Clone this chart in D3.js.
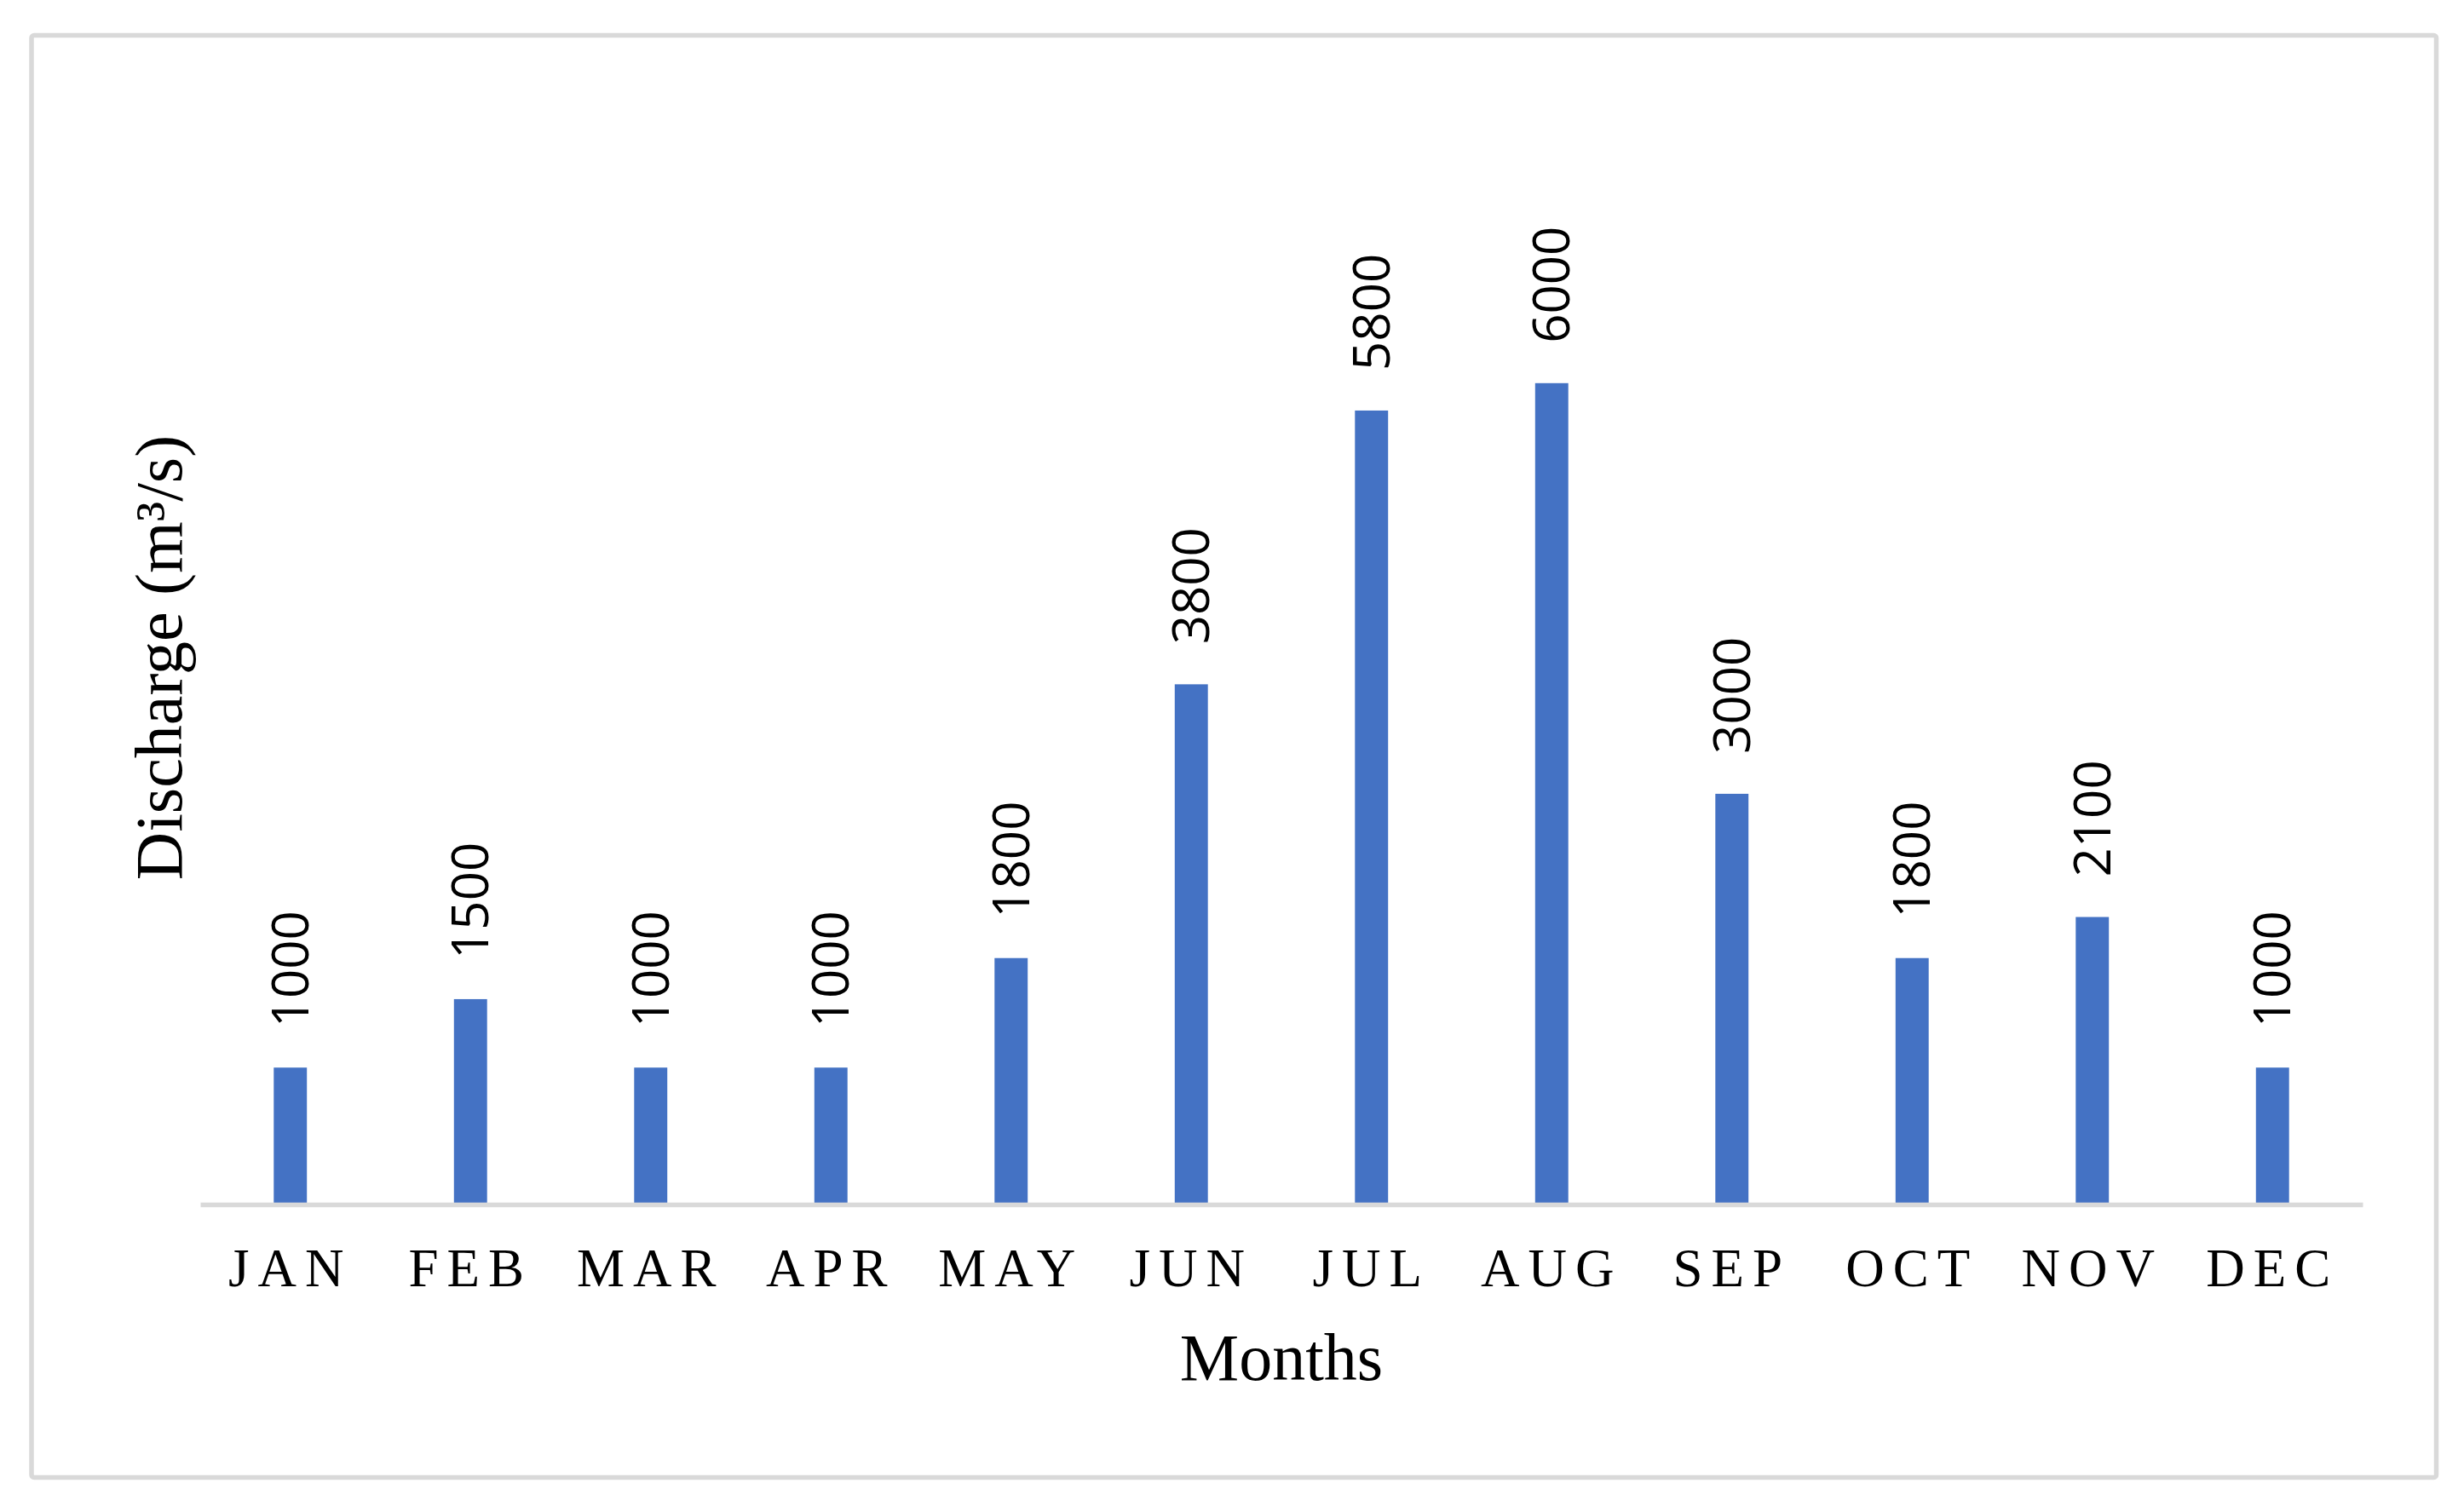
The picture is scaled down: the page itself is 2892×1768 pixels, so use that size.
<!DOCTYPE html>
<html>
<head>
<meta charset="utf-8">
<script src="https://cdn.jsdelivr.net/npm/d3@7"></script>
<style>
  html, body { margin: 0; padding: 0; background: #ffffff; }
  svg { display: block; }
</style>
</head>
<body>
<svg id="chart" width="2892" height="1768"></svg>
<script>
const months = ["JAN","FEB","MAR","APR","MAY","JUN","JUL","AUG","SEP","OCT","NOV","DEC"];
const discharge = [1000,1500,1000,1000,1800,3800,5800,6000,3000,1800,2100,1000];
const xTitle = "Months";
const yTitle = "Discharge (m\u00B3/s)";

const svg = d3.select("#chart");

// outer frame
svg.append("rect")
  .attr("x", 37).attr("y", 41.5)
  .attr("width", 2822.5).attr("height", 1693)
  .attr("rx", 3)
  .attr("fill", "#ffffff")
  .attr("stroke", "#d9d9d9")
  .attr("stroke-width", 5.5);

const x = d3.scaleBand()
  .domain(months)
  .range([235, 2773])
  .paddingInner(0.816)
  .paddingOuter(0.408);

const y = d3.scaleLinear()
  .domain([0, 7000])
  .range([1414, 1414 - 7 * 160.7]);

// bars
svg.append("g").selectAll("rect")
  .data(months)
  .join("rect")
  .attr("x", d => x(d))
  .attr("width", x.bandwidth())
  .attr("y", (d, i) => y(discharge[i]))
  .attr("height", (d, i) => y(0) - y(discharge[i]))
  .attr("fill", "#4472C4");

// data labels (rotated)
svg.append("g").selectAll("text")
  .data(months)
  .join("text")
  .attr("transform", (d, i) => `translate(${x(d) + x.bandwidth() / 2 + 21},${y(discharge[i]) - 47}) rotate(-90)`)
  .attr("text-anchor", "start")
  .attr("font-family", "'Open Sans', 'Noto Sans', sans-serif")
  .attr("font-size", 60)
  .attr("fill", "#000000")
  .text((d, i) => discharge[i]);

// x axis
const xAxis = d3.axisBottom(x).tickSize(0).tickSizeOuter(0);
const gx = svg.append("g")
  .attr("transform", `translate(0,${y(0)})`)
  .call(xAxis);
gx.select(".domain")
  .attr("stroke", "#d9d9d9")
  .attr("stroke-width", 5.5);
gx.selectAll(".tick text")
  .attr("y", 96)
  .attr("dy", null)
  .attr("font-family", "'Liberation Serif', 'Times New Roman', serif")
  .attr("font-size", 63)
  .attr("letter-spacing", "10px")
  .attr("fill", "#000000");

// axis titles
svg.append("text")
  .attr("x", 1504).attr("y", 1620)
  .attr("text-anchor", "middle")
  .attr("font-family", "'Liberation Serif', 'Times New Roman', serif")
  .attr("font-size", 78)
  .attr("fill", "#000000")
  .text(xTitle);

svg.append("text")
  .attr("transform", "translate(213,772) rotate(-90)")
  .attr("text-anchor", "middle")
  .attr("font-family", "'Liberation Serif', 'Times New Roman', serif")
  .attr("font-size", 78)
  .attr("fill", "#000000")
  .text(yTitle);
</script>
</body>
</html>
